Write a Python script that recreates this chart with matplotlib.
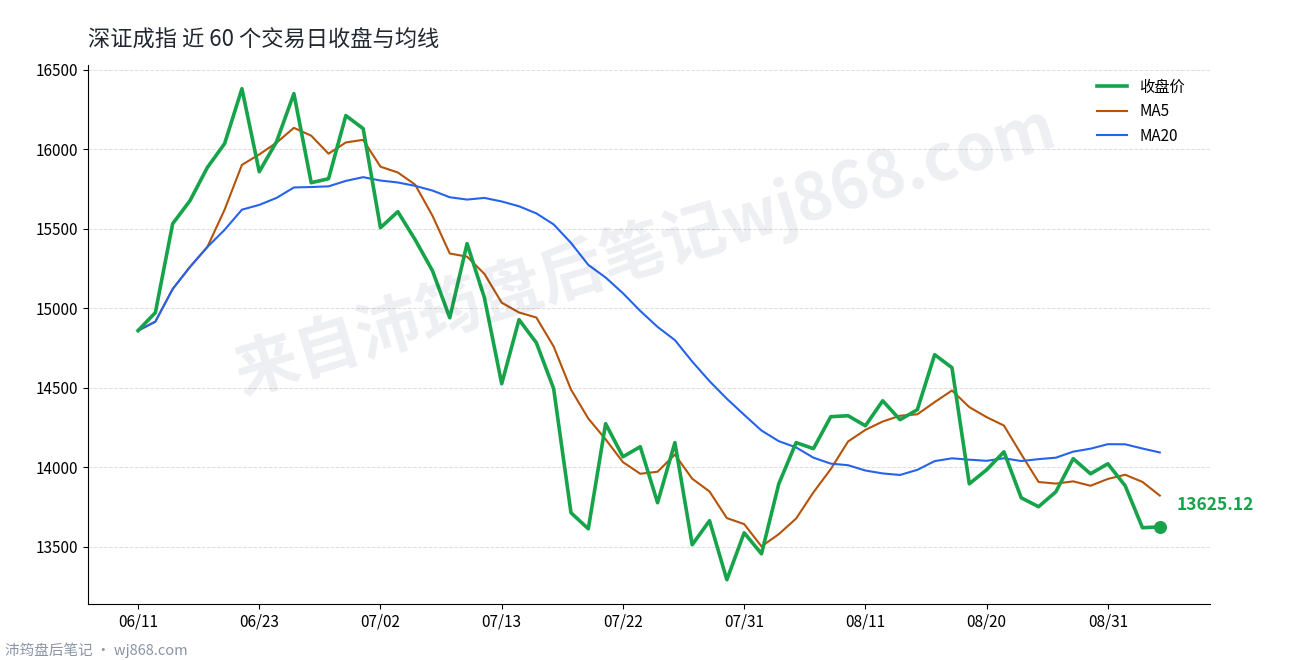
import matplotlib
matplotlib.use("Agg")
import matplotlib.pyplot as plt
import pandas as pd
import numpy as np

plt.rcParams['font.family'] = ['Noto Sans CJK SC', 'DejaVu Sans']

close = [14859, 14972, 15531, 15676, 15884, 16035, 16380, 15858, 16047, 16349,
         15789, 15814, 16211, 16129, 15506, 15607, 15431, 15236, 14940, 15406,
         15066, 14525, 14928, 14783, 14494, 13714, 13613, 14274, 14066, 14129,
         13777, 14155, 13513, 13664, 13293, 13588, 13456, 13896, 14155, 14117,
         14318, 14324, 14261, 14418, 14299, 14362, 14708, 14626, 13896, 13984,
         14097, 13808, 13752, 13846, 14054, 13959, 14022, 13884, 13620, 13625.12]
tick_labels = ["06/11", "06/23", "07/02", "07/13", "07/22", "07/31", "08/11", "08/20", "08/31"]
tick_pos = [0, 7, 14, 21, 28, 35, 42, 49, 56]

s = pd.Series(close)
ma5 = s.rolling(5, min_periods=1).mean()
ma20 = s.rolling(20, min_periods=1).mean()
x = np.arange(len(close))

fig = plt.figure(figsize=(12.9, 6.6), dpi=100)
ax = fig.add_axes([0.0682, 0.085, 0.8698, 0.817])
ax.plot(x, close, color='#16a34a', lw=2.6, label='收盘价', zorder=4)
ax.plot(x, ma5, color='#b45309', lw=1.5, label='MA5', zorder=3)
ax.plot(x, ma20, color='#2563eb', lw=1.5, label='MA20', zorder=3)
ax.scatter([x[-1]], [close[-1]], color='#16a34a', s=70, zorder=5)
ax.annotate(f"{close[-1]:.2f}", (x[-1], close[-1]), xytext=(12, 12), textcoords='offset points',
            color='#16a34a', fontsize=12.5, fontweight='bold')

ax.set_xlim(-2.89, 61.9)
ax.set_ylim(13141, 16531)
ax.set_yticks([13500, 14000, 14500, 15000, 15500, 16000, 16500])
ax.set_xticks(tick_pos)
ax.set_xticklabels(tick_labels)
ax.tick_params(labelsize=11)
ax.grid(axis='y', color='#dddddd', ls='--', lw=0.7)
for sp in ['top', 'right']:
    ax.spines[sp].set_visible(False)
ax.legend(loc='upper right', frameon=False, fontsize=11, bbox_to_anchor=(0.99, 1.0))
fig.text(0.068, 0.93, "深证成指 近 60 个交易日收盘与均线", fontsize=16, color='#222831')
fig.text(0.5, 0.62, "来自沛筠盘后笔记wj868.com", fontsize=46, color='#1e2a5a', alpha=0.08,
         rotation=17, ha='center', va='center', fontweight='bold')
fig.text(0.004, 0.008, "沛筠盘后笔记 · wj868.com", fontsize=10.5, color='#8a94a6')
fig.savefig("out.png")
